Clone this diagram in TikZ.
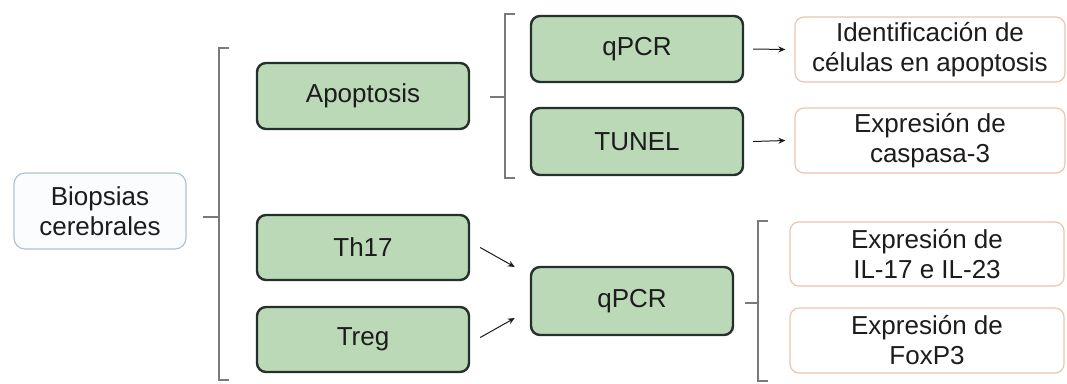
\documentclass[tikz,border=0pt]{standalone}
\usepackage{fontspec}
\setmainfont{Liberation Sans}
\usetikzlibrary{arrows.meta}
\definecolor{greenfill}{HTML}{BBD8B7}
\definecolor{greenline}{HTML}{24302A}
\definecolor{bioline}{HTML}{AFC3CF}
\definecolor{biofill}{HTML}{FAFCFD}
\definecolor{outline}{HTML}{F0C3AC}
\definecolor{bracketgray}{HTML}{7A7A7A}
\definecolor{txt}{HTML}{1C1C1C}
\tikzset{
  lbl/.style={font=\fontsize{26}{30}\selectfont, text=txt, align=center, inner sep=0pt},
  method/.style={lbl, draw=greenline, line width=2.4pt, fill=greenfill,
    rounded corners=9pt, minimum width=212pt, minimum height=66pt},
  source/.style={lbl, draw=bioline, line width=1.2pt, fill=biofill,
    rounded corners=11pt, minimum width=172pt, minimum height=76pt},
  result/.style={lbl, draw=outline, line width=1.2pt, fill=white,
    rounded corners=9pt, minimum width=270pt, minimum height=65pt},
  brace/.style={draw=bracketgray, line width=1.1pt},
  arr/.style={draw=txt, line width=1pt, -{Stealth[length=7pt,width=6pt]}}
}
\begin{document}
\begin{tikzpicture}[x=1pt,y=-1pt]
\useasboundingbox (0,0) rectangle (1067,383);

% source sample
\node[source] (bio) at (100,211) {Biopsias\\cerebrales};

% first level
\node[method] (apo) at (363,96) {Apoptosis};
\node[method, minimum height=65pt] (th17) at (363,247.5) {Th17};
\node[method, minimum height=65pt] (treg) at (363,339.5) {Treg};

% techniques
\node[method] (q1) at (637,49) {qPCR};
\node[method, minimum height=67pt] (tunel) at (637,141.5) {TUNEL};
\node[method, minimum width=202pt, minimum height=68pt] (q2) at (632,301) {qPCR};

% results
\node[result] (r1) at (930,49.5) {Identificación de\\células en apoptosis};
\node[result] (r2) at (930,140.5) {Expresión de\\caspasa-3};
\node[result, minimum width=274pt, minimum height=64pt] (r3) at (927,254) {Expresión de\\IL-17 e IL-23};
\node[result, minimum width=274pt] (r4) at (927,340.5) {Expresión de\\FoxP3};

% bracket from the biopsies
\coordinate (b1s) at (203,217);
\coordinate (b1m) at (219,217);
\coordinate (b1t) at (219,48);
\coordinate (b1b) at (219,380);
\draw[brace] (b1s) -- (b1m);
\draw[brace] ([xshift=10pt]b1t) -- (b1t) -- (b1b) -- ([xshift=10pt]b1b);

% bracket from apoptosis
\coordinate (b2s) at (490,97);
\coordinate (b2m) at (505,97);
\coordinate (b2t) at (505,14);
\coordinate (b2b) at (505,178);
\draw[brace] (b2s) -- (b2m);
\draw[brace] ([xshift=10pt]b2t) -- (b2t) -- (b2b) -- ([xshift=10pt]b2b);

% bracket from the second qPCR
\coordinate (b3s) at (745,303);
\coordinate (b3m) at (758,303);
\coordinate (b3t) at (758,221);
\coordinate (b3b) at (758,381);
\draw[brace] (b3s) -- (b3m);
\draw[brace] ([xshift=10pt]b3t) -- (b3t) -- (b3b) -- ([xshift=10pt]b3b);

% arrows
\draw[arr] ([xshift=9pt]q1.east) -- ([xshift=-9pt]r1.west);
\draw[arr] ([xshift=9pt]tunel.east) -- ([xshift=-9pt]r2.west);
\draw[arr] ([shift={(10,0)}]th17.east) -- ([shift={(-15,-34)}]q2.west);
\draw[arr] ([shift={(10,-2)}]treg.east) -- ([shift={(-15,17)}]q2.west);
\end{tikzpicture}
\end{document}
